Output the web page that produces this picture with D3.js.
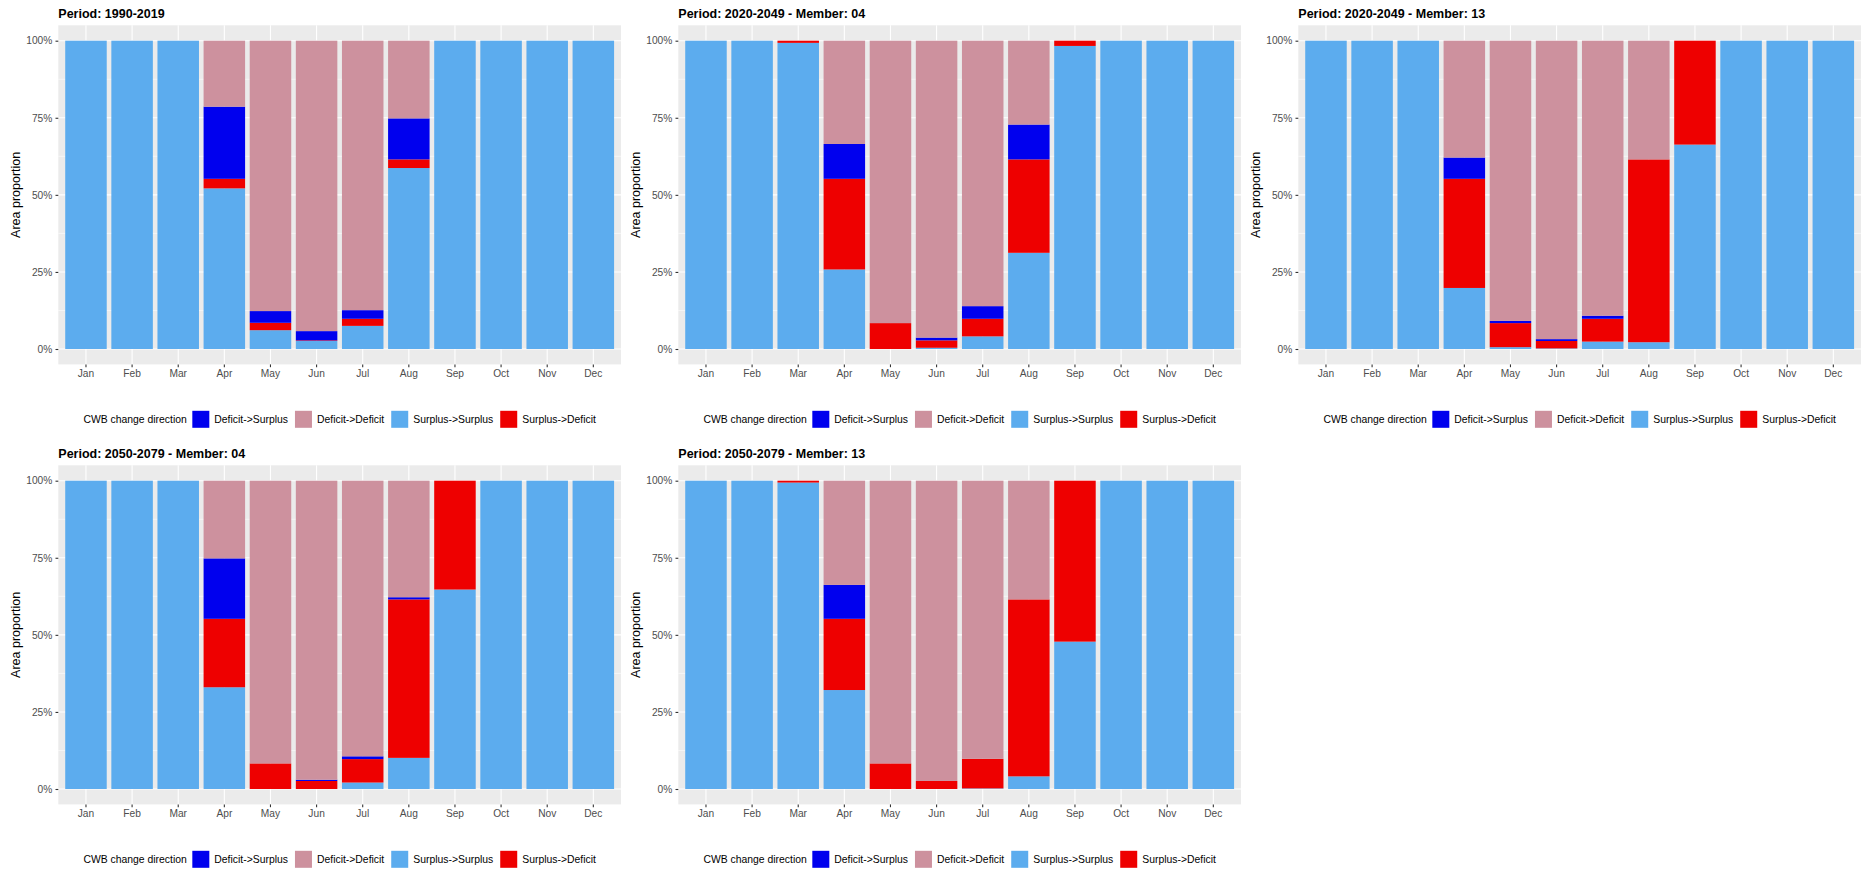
<!DOCTYPE html>
<html>
<head>
<meta charset="utf-8">
<script src="https://cdn.jsdelivr.net/npm/d3@7"></script>
<style>
  html, body { margin: 0; padding: 0; background: #fff; }
  svg { display: block; font-family: "Liberation Sans", Arial, sans-serif; }
</style>
</head>
<body>
<svg id="chart" width="1861" height="870"></svg>
<script>
// ---------- data ----------
const months = ["Jan","Feb","Mar","Apr","May","Jun","Jul","Aug","Sep","Oct","Nov","Dec"];
const legendOrder = ["Deficit->Surplus","Deficit->Deficit","Surplus->Surplus","Surplus->Deficit"];
const stackOrder = ["Surplus->Surplus","Surplus->Deficit","Deficit->Surplus","Deficit->Deficit"];
const yTicks = [0, 25, 50, 75, 100];
const panelTitles = [
  "Period: 1990-2019",
  "Period: 2020-2049 - Member: 04",
  "Period: 2020-2049 - Member: 13",
  "Period: 2050-2079 - Member: 04",
  "Period: 2050-2079 - Member: 13"
];

// values in percent of area, per month
const p1_SS = [100,100,100,52.1,6.1,2.6,7.5,58.7,100,100,100,100];
const p1_SD = [0,0,0,3.1,2.4,0.2,2.3,2.8,0,0,0,0];
const p1_DS = [0,0,0,23.4,3.8,3.0,2.8,13.3,0,0,0,0];
const p1_DD = [0,0,0,21.4,87.7,94.2,87.4,25.2,0,0,0,0];

const p2_SS = [100,100,99.3,25.8,0,0.4,4.1,31.2,98.3,100,100,100];
const p2_SD = [0,0,0.7,29.4,8.4,2.4,5.7,30.3,1.7,0,0,0];
const p2_DS = [0,0,0,11.3,0,0.9,4.1,11.3,0,0,0,0];
const p2_DD = [0,0,0,33.5,91.6,96.3,86.1,27.2,0,0,0,0];

const p3_SS = [100,100,100,19.8,0.6,0.2,2.4,2.2,66.3,100,100,100];
const p3_SD = [0,0,0,35.4,7.8,2.4,7.4,59.3,33.7,0,0,0];
const p3_DS = [0,0,0,6.9,0.7,0.6,1.0,0,0,0,0,0];
const p3_DD = [0,0,0,37.9,90.9,96.8,89.2,38.5,0,0,0,0];

const p4_SS = [100,100,100,33.0,0,0,2.1,10.1,64.7,100,100,100];
const p4_SD = [0,0,0,22.2,8.3,2.6,7.6,51.4,35.3,0,0,0];
const p4_DS = [0,0,0,19.6,0,0.4,0.9,0.7,0,0,0,0];
const p4_DD = [0,0,0,25.2,91.7,97.0,89.4,37.8,0,0,0,0];

const p5_SS = [100,100,99.4,32.1,0,0,0.2,4.1,47.8,100,100,100];
const p5_SD = [0,0,0.6,23.1,8.3,2.6,9.6,57.4,52.2,0,0,0];
const p5_DS = [0,0,0,11.0,0,0,0,0,0,0,0,0];
const p5_DD = [0,0,0,33.8,91.7,97.4,90.2,38.5,0,0,0,0];

const panelSeries = [
  {"Surplus->Surplus": p1_SS, "Surplus->Deficit": p1_SD, "Deficit->Surplus": p1_DS, "Deficit->Deficit": p1_DD},
  {"Surplus->Surplus": p2_SS, "Surplus->Deficit": p2_SD, "Deficit->Surplus": p2_DS, "Deficit->Deficit": p2_DD},
  {"Surplus->Surplus": p3_SS, "Surplus->Deficit": p3_SD, "Deficit->Surplus": p3_DS, "Deficit->Deficit": p3_DD},
  {"Surplus->Surplus": p4_SS, "Surplus->Deficit": p4_SD, "Deficit->Surplus": p4_DS, "Deficit->Deficit": p4_DD},
  {"Surplus->Surplus": p5_SS, "Surplus->Deficit": p5_SD, "Deficit->Surplus": p5_DS, "Deficit->Deficit": p5_DD}
];

const colors = {
  "Deficit->Surplus": "#0000EE",
  "Deficit->Deficit": "#CD919E",
  "Surplus->Surplus": "#5CACEE",
  "Surplus->Deficit": "#EE0000"
};

// ---------- layout ----------
const svg = d3.select("#chart");
svg.append("rect").attr("width", 1861).attr("height", 870).attr("fill", "#fff");

const colW = 620, rowH = 440;
const pL = 58.3, pR = 621, pT = 25.3, pB = 364.4;
const y0 = 349, y100 = 40.7;
const unit = (pR - pL) / 12.2;

panelTitles.forEach((title, i) => {
  const ox = (i % 3) * colW, oy = Math.floor(i / 3) * rowH;
  const g = svg.append("g").attr("transform", `translate(${ox},${oy})`);

  const x = d3.scaleBand().domain(months)
    .range([pL + 0.1 * unit, pR - 0.1 * unit])
    .paddingInner(0.1).paddingOuter(0.05);
  const y = d3.scaleLinear().domain([0, 100]).range([y0, y100]);

  // panel background
  g.append("rect").attr("x", pL).attr("y", pT).attr("width", pR - pL).attr("height", pB - pT).attr("fill", "#EBEBEB");
  // minor grid
  const minor = [12.5, 37.5, 62.5, 87.5];
  g.selectAll(".minor").data(minor).enter().append("line")
    .attr("x1", pL).attr("x2", pR).attr("y1", d => y(d)).attr("y2", d => y(d))
    .attr("stroke", "#fff").attr("stroke-width", 0.55);
  // major grid
  g.selectAll(".majy").data(yTicks).enter().append("line")
    .attr("x1", pL).attr("x2", pR).attr("y1", d => y(d)).attr("y2", d => y(d))
    .attr("stroke", "#fff").attr("stroke-width", 1.1);
  g.selectAll(".majx").data(months).enter().append("line")
    .attr("x1", d => x(d) + x.bandwidth() / 2).attr("x2", d => x(d) + x.bandwidth() / 2)
    .attr("y1", pT).attr("y2", pB)
    .attr("stroke", "#fff").attr("stroke-width", 1.1);

  // stacked bars
  const series = panelSeries[i];
  const rows = months.map((m, j) => {
    const r = { month: m };
    stackOrder.forEach(k => r[k] = series[k][j]);
    return r;
  });
  const stacked = d3.stack().keys(stackOrder)(rows);
  stacked.forEach(layer => {
    g.append("g").attr("fill", colors[layer.key])
      .selectAll("rect").data(layer.filter(d => d[1] - d[0] > 0)).enter().append("rect")
      .attr("x", d => x(d.data.month))
      .attr("width", x.bandwidth())
      .attr("y", d => y(d[1]))
      .attr("height", d => y(d[0]) - y(d[1]));
  });

  // axes
  const yAxis = d3.axisLeft(y).tickValues(yTicks).tickSize(2.8).tickPadding(3.2)
    .tickFormat(d => d + "%");
  const ya = g.append("g").attr("transform", `translate(${pL},0)`).call(yAxis);
  ya.select(".domain").remove();
  ya.selectAll("line").attr("stroke", "#333").attr("stroke-width", 1.1);
  ya.selectAll("text").attr("fill", "#4D4D4D").attr("font-size", "10.2px")
    .attr("font-family", "Liberation Sans, Arial, sans-serif");

  const xAxis = d3.axisBottom(x).tickSize(2.8).tickPadding(2.3);
  const xa = g.append("g").attr("transform", `translate(0,${pB})`).call(xAxis);
  xa.select(".domain").remove();
  xa.selectAll("line").attr("stroke", "#333").attr("stroke-width", 1.1);
  xa.selectAll("text").attr("fill", "#4D4D4D").attr("font-size", "10.2px")
    .attr("font-family", "Liberation Sans, Arial, sans-serif");

  // title
  g.append("text").attr("x", pL).attr("y", 18.3)
    .attr("font-size", "12.5px").attr("font-weight", "bold").attr("fill", "#000")
    .text(title);

  // y axis title
  g.append("text")
    .attr("transform", `translate(20.3,${(pT + pB) / 2}) rotate(-90)`)
    .attr("text-anchor", "middle").attr("font-size", "12.5px").attr("fill", "#000")
    .text("Area proportion");

  // legend
  const lg = g.append("g");
  const ly = 419.3;
  const fs = "10.4px";
  let cx = 0;
  const lt = lg.append("text").attr("x", cx).attr("y", ly).attr("dy", "0.35em")
    .attr("font-size", fs).attr("fill", "#000").text("CWB change direction");
  cx += lt.node().getComputedTextLength() + 5.5;
  legendOrder.forEach((k, j) => {
    lg.append("rect").attr("x", cx).attr("y", ly - 8.5).attr("width", 17).attr("height", 17)
      .attr("fill", colors[k]);
    cx += 17 + 5;
    const t = lg.append("text").attr("x", cx).attr("y", ly).attr("dy", "0.35em")
      .attr("font-size", fs).attr("fill", "#000").text(k);
    cx += t.node().getComputedTextLength();
    if (j < legendOrder.length - 1) cx += 7;
  });
  const center = (pL + pR) / 2;
  lg.attr("transform", `translate(${center - cx / 2},0)`);
});
</script>
</body>
</html>
